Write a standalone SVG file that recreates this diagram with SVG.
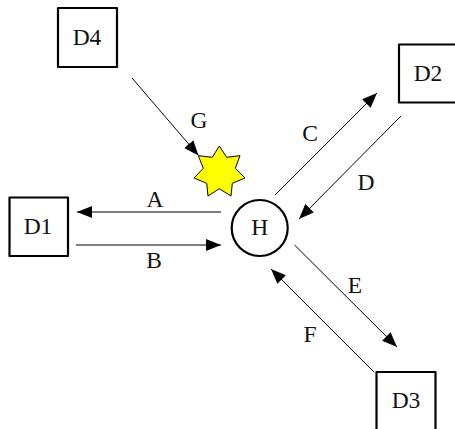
<svg xmlns="http://www.w3.org/2000/svg" width="455" height="429" viewBox="0 0 455 429">
<style>
text{font-family:"Liberation Serif","Times New Roman",serif;font-size:23.5px;fill:#111;text-anchor:middle}
.n{fill:#fff;stroke:#000;stroke-width:2.2;stroke-linejoin:round}
.c line{stroke:#000;stroke-width:1;marker-end:url(#a)}
</style>
<defs><marker id="a" markerUnits="userSpaceOnUse" markerWidth="15" markerHeight="13" refX="15" refY="6.5" orient="auto"><path d="M0 .5L15 6.5L0 12.5Z" fill="#000"/></marker></defs>
<rect width="455" height="429" fill="#fff"/>
<g id="connectors" class="c">
<line x1="132" y1="78" x2="198.5" y2="155.5"/>
<line x1="221" y1="212" x2="77" y2="212"/>
<line x1="76" y1="245" x2="221" y2="245"/>
<line x1="275" y1="195" x2="377" y2="93"/>
<line x1="401" y1="116" x2="299" y2="219"/>
<line x1="294.5" y1="245" x2="397" y2="347"/>
<line x1="374" y1="372" x2="271" y2="269"/>
</g>
<g id="D4"><rect class="n" x="58" y="8" width="59" height="59"/><text x="87" y="45">D4</text></g>
<g id="D1"><rect class="n" x="9.5" y="197.5" width="58.5" height="58.5"/><text x="38" y="234">D1</text></g>
<g id="D2"><rect class="n" x="399" y="44.5" width="59" height="58"/><text x="428" y="81">D2</text></g>
<g id="D3"><rect class="n" x="376.5" y="372" width="59" height="60"/><text x="406" y="408">D3</text></g>
<g id="H"><circle class="n" cx="259.7" cy="228" r="28"/><text x="259.7" y="235">H</text></g>
<g id="star"><path d="M219.3 146L226.7 157.3L240 155.7L235.3 168.3L245 178L232.3 183.3L231 196L219.3 188.7L208 196L206.7 183.3L194 178L203.3 168.3L198.3 155.7L212.3 157.3Z" fill="#ff0" stroke="#000" stroke-width="1"/></g>
<g id="labels">
<text x="199" y="128">G</text>
<text x="155" y="207">A</text>
<text x="154" y="268">B</text>
<text x="310" y="141">C</text>
<text x="366" y="190">D</text>
<text x="355" y="293">E</text>
<text x="310" y="342">F</text>
</g>
</svg>
